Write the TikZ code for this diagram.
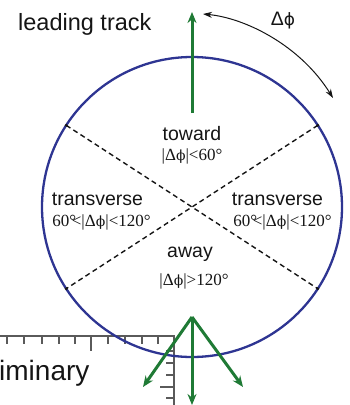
\documentclass[tikz,border=0pt]{standalone}
\usepackage{fontspec}
\setmainfont{Liberation Serif}
\setsansfont{Liberation Sans}
\newfontfamily\phisans{DejaVu Sans}
\newfontfamily\phiserif{DejaVu Serif}
\usetikzlibrary{arrows.meta,calc}
\definecolor{ringblue}{HTML}{2E3592}
\definecolor{trkgreen}{HTML}{1F7A35}
\definecolor{txtgray}{HTML}{151515}
\definecolor{rulergray}{HTML}{5A5A5A}
\newcommand{\sphi}{{\phisans\fontsize{17}{18}\selectfont ϕ}}
\newcommand{\rphi}{{\phiserif\fontsize{14}{15}\selectfont ϕ}}
\tikzset{
  sanslbl/.style={inner sep=0pt, text=txtgray, font=\sffamily\fontsize{19.5}{20}\selectfont},
  seriflbl/.style={inner sep=0pt, text=txtgray, font=\rmfamily\fontsize{17}{18}\selectfont},
  track/.style={draw=trkgreen, line width=3pt, -{Stealth[length=11pt,width=9pt]}},
  sector/.style={draw=txtgray, line width=1.4pt, dash pattern=on 5pt off 3.5pt},
  ruler/.style={draw=rulergray, line width=1.3pt},
  dphi/.style={draw=txtgray, line width=1pt, {Stealth[length=9pt,width=6pt]}-{Stealth[length=9pt,width=6pt]}}
}
\begin{document}
\begin{tikzpicture}[x=1pt,y=1pt]
\useasboundingbox (0,0) rectangle (350,-405);
% ruler (background)
\draw[ruler] (0,-336) -- (174,-336) -- (174,-405);
\foreach \xx in {7,24,42,59,75,108,125,142,158} \draw[ruler] (\xx,-336) -- (\xx,-344);
\draw[ruler] (91,-336) -- (91,-351);
\foreach \yy in {351,363,375,398} \draw[ruler] (174,-\yy) -- (166,-\yy);
\draw[ruler] (174,-387) -- (160,-387);
% circle
\coordinate (c) at (192,-207);
\draw[ringblue, line width=2.3pt] (c) circle[radius=150];
% sector lines
\coordinate (ul) at ($(c)+(147:150)$);
\coordinate (lr) at ($(c)+(-33:150)$);
\coordinate (ur) at ($(c)+(33:150)$);
\coordinate (ll) at ($(c)+(213:150)$);
\draw[sector] (ul) -- (lr);
\draw[sector] (ur) -- (ll);
\foreach \p in {ul,lr,ur,ll} \fill[txtgray] (\p) circle[radius=1.6];
% leading track
\coordinate (lt0) at (192,-113);
\coordinate (lt1) at (192,-12);
\draw[track] (lt0) -- (lt1);
% delta phi arc
\coordinate (a0) at (203,-14);
\coordinate (a1) at (333,-98);
\draw[dphi] (a0) .. controls (245,-18) and (300,-45) .. (a1);
\node[sanslbl, anchor=base] (dp) at (283,-25) {Δ\sphi};
% away tracks
\coordinate (o) at (192,-317);
\coordinate (tl) at (143,-387);
\coordinate (tm) at (192,-405);
\coordinate (tr) at (243,-387);
\draw[track] (o) -- (tl);
\draw[track] (o) -- (tm);
\draw[track] (o) -- (tr);
% labels
\node[sanslbl, anchor=base west, font=\sffamily\fontsize{23.5}{24}\selectfont] (lead) at (18,-30) {leading track};
\node[sanslbl, anchor=base west, font=\sffamily\fontsize{28}{29}\selectfont] (prel) at (-1,-380) {iminary};
\node[sanslbl, anchor=base] (tow) at (192,-140) {toward};
\node[seriflbl, anchor=base] (towr) at (192,-160) {|Δ\rphi|<60°};
\node[sanslbl, anchor=base] (trl) at (97.5,-205) {transverse};
\node[seriflbl, anchor=base] (trlr) at (101.5,-226) {60°\kern-0.25em<|Δ\rphi|<120°};
\node[sanslbl, anchor=base] (trr) at (277.5,-205) {transverse};
\node[seriflbl, anchor=base] (trrr) at (282.5,-226) {60°\kern-0.25em<|Δ\rphi|<120°};
\node[sanslbl, anchor=base] (aw) at (190,-257) {away};
\node[seriflbl, anchor=base] (awr) at (194,-285) {|Δ\rphi|>120°};
\end{tikzpicture}
\end{document}
